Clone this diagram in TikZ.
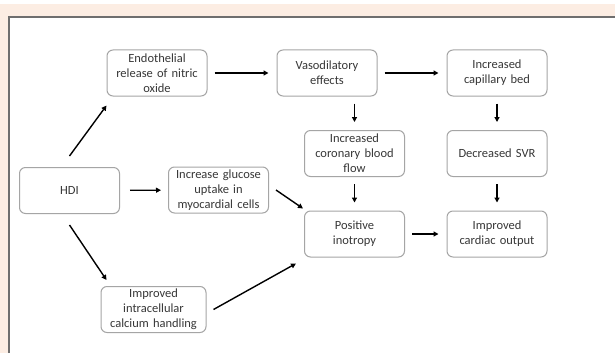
\documentclass[tikz,border=0pt]{standalone}
\usepackage{fontspec}
\setmainfont{Carlito}
\usetikzlibrary{arrows.meta}
\definecolor{pagebeige}{RGB}{252,237,227}
\definecolor{framegray}{RGB}{110,110,110}
\definecolor{boxgray}{RGB}{165,165,165}
\definecolor{textgray}{RGB}{55,55,55}
\begin{document}
\begin{tikzpicture}[x=1pt,y=-1pt,
  box/.style={draw=boxgray,line width=1pt,rounded corners=6pt,fill=white,
    text=textgray,align=center,text width=94pt,inner xsep=3pt,inner ysep=2pt,
    minimum height=46pt,font=\fontsize{12.5}{15}\selectfont},
  arr/.style={draw=black,line width=1.4pt,-{Triangle[length=5pt,width=5pt]}},
  gap/.style={shorten <=7pt,shorten >=8pt}]
\useasboundingbox (0,0) rectangle (615,353);
\fill[color=white] (0,0) rectangle (615,353);
\fill[color=pagebeige] (0,4) rectangle (615,353);
\fill[color=white] (9,17) rectangle (615,353);
\draw[color=framegray,line width=2pt] (9,353) -- (9,17) -- (615,17);
% top row
\node[box] (endo) at (157,73) {Endothelial\\release of nitric\\oxide};
\node[box] (vaso) at (327,73) {Vasodilatory\\effects};
\node[box] (cap) at (497,73) {Increased\\capillary bed};
% second row
\node[box] (flow) at (354.5,153.5) {Increased\\coronary blood\\flow};
\node[box] (svr) at (497,153.5) {Decreased SVR};
% middle row
\node[box] (hdi) at (69.5,190.5) {HDI};
\node[box] (gluc) at (218.5,190) {Increase glucose\\uptake in\\myocardial cells};
\node[box] (ino) at (354.5,234) {Positive\\inotropy};
\node[box] (card) at (497,234) {Improved\\cardiac output};
% bottom
\node[box,text width=99pt] (calc) at (153.5,309.5) {Improved\\intracellular\\calcium handling};
% arrows
\draw[arr] ([yshift=11pt]hdi.north) -- ([yshift=-9pt]endo.south west);
\draw[arr,gap] (endo) -- (vaso);
\draw[arr,gap] (vaso) -- (cap);
\draw[arr,gap] (flow.north |- vaso.south) -- (flow.north);
\draw[arr,gap] (cap) -- (svr);
\draw[arr,gap] (flow) -- (ino);
\draw[arr,gap] (svr) -- (card);
\draw[arr,gap] (ino) -- (card);
\draw[arr,shorten <=10pt,shorten >=7pt] (hdi) -- (gluc);
\draw[arr] ([xshift=7pt]gluc.east) -- ([xshift=-1pt,yshift=2pt]ino.north west);
\draw[arr] ([yshift=-11pt]hdi.south) -- ([xshift=6pt,yshift=6pt]calc.north west);
\draw[arr] ([xshift=7pt]calc.east) -- ([xshift=-8pt,yshift=-6pt]ino.south west);
\end{tikzpicture}
\end{document}
